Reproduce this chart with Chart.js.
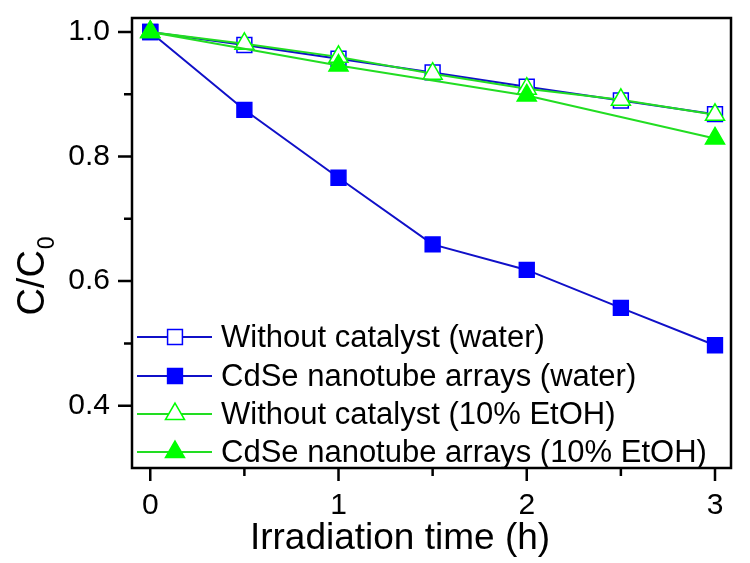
<!DOCTYPE html>
<html>
<head>
<meta charset="utf-8">
<script src="https://cdn.jsdelivr.net/npm/chart.js@4/dist/chart.umd.min.js"></script>
<style>
  html, body { margin: 0; padding: 0; background: #fff; }
  #wrap { width: 750px; height: 563px; }
</style>
</head>
<body>
<div id="wrap"><canvas id="rateChart" width="750" height="563"></canvas></div>
<script>
// irradiation time (h)
const timeAll = [0, 0.5, 1, 1.5, 2, 2.5, 3];
const timeEtoh = [0, 1, 2, 3];

// C/C0 values
const blankWater = [1.0, 0.979, 0.957, 0.935, 0.912, 0.890, 0.868];
const cdseWater = [1.0, 0.875, 0.766, 0.659, 0.618, 0.557, 0.497];
const blankEtoh = [1.0, 0.981, 0.960, 0.933, 0.909, 0.891, 0.867];
const cdseEtoh = [1.0, 0.946, 0.898, 0.829];

const seriesNames = [
  'Without catalyst (water)',
  'CdSe nanotube arrays (water)',
  'Without catalyst (10% EtOH)',
  'CdSe nanotube arrays (10% EtOH)'
];

const xMajorTicks = [0, 1, 2, 3];
const xMinorTicks = [0.5, 1.5, 2.5];
const yMajorTicks = [0.4, 0.6, 0.8, 1.0];
const yMinorTicks = [0.5, 0.7, 0.9];

const blueLine = '#1010C8';
const blueMark = '#0000FF';
const greenLine = '#22DD22';
const greenMark = '#00FF00';
const FONT = 'Arial, "Liberation Sans", sans-serif';

function pts(xs, ys) {
  return xs.map((x, i) => ({ x: x, y: ys[i] }));
}

const styles = [
  { line: blueLine, mark: blueMark, shape: 'rect', fill: '#ffffff' },
  { line: blueLine, mark: blueMark, shape: 'rect', fill: blueMark },
  { line: greenLine, mark: greenMark, shape: 'triangle', fill: '#ffffff' },
  { line: greenLine, mark: greenMark, shape: 'triangle', fill: greenMark }
];

function makeSet(i, data) {
  const s = styles[i];
  return {
    label: seriesNames[i],
    data: data,
    borderColor: s.line,
    borderWidth: 2,
    backgroundColor: s.fill,
    pointStyle: s.shape,
    pointRadius: s.shape === 'rect' ? 10.5 : 11,
    pointBorderColor: s.mark,
    pointBackgroundColor: s.fill,
    pointBorderWidth: 1.5,
    tension: 0,
    order: 4 - i
  };
}

function drawMarker(ctx, s, x, y) {
  ctx.save();
  ctx.beginPath();
  if (s.shape === 'rect') {
    const h = 10.5 * Math.SQRT1_2;
    ctx.rect(x - h, y - h, 2 * h, 2 * h);
  } else {
    const r = 11;
    ctx.moveTo(x, y - r);
    ctx.lineTo(x + r * Math.sin(Math.PI * 2 / 3), y + r * 0.5);
    ctx.lineTo(x - r * Math.sin(Math.PI * 2 / 3), y + r * 0.5);
    ctx.closePath();
  }
  ctx.fillStyle = s.fill;
  ctx.fill();
  ctx.lineWidth = 1.5;
  ctx.strokeStyle = s.mark;
  ctx.stroke();
  ctx.restore();
}

const framePlugin = {
  id: 'frame',
  afterDraw(chart) {
    const ctx = chart.ctx;
    const a = chart.chartArea;
    const xs = chart.scales.x;
    const ys = chart.scales.y;
    ctx.save();
    ctx.strokeStyle = '#000';
    ctx.lineWidth = 2.5;
    ctx.strokeRect(a.left, a.top, a.right - a.left, a.bottom - a.top);

    // tick marks, pointing out
    ctx.beginPath();
    yMajorTicks.forEach(v => {
      const p = ys.getPixelForValue(v);
      ctx.moveTo(a.left, p); ctx.lineTo(a.left - 14, p);
    });
    yMinorTicks.forEach(v => {
      const p = ys.getPixelForValue(v);
      ctx.moveTo(a.left, p); ctx.lineTo(a.left - 8, p);
    });
    xMajorTicks.forEach(v => {
      const p = xs.getPixelForValue(v);
      ctx.moveTo(p, a.bottom); ctx.lineTo(p, a.bottom + 13);
    });
    xMinorTicks.forEach(v => {
      const p = xs.getPixelForValue(v);
      ctx.moveTo(p, a.bottom); ctx.lineTo(p, a.bottom + 8);
    });
    ctx.stroke();

    // axis titles
    ctx.fillStyle = '#000';
    ctx.textAlign = 'center';
    ctx.textBaseline = 'middle';
    ctx.font = '37px ' + FONT;
    ctx.fillText('Irradiation time (h)', 400, 539);

    ctx.save();
    ctx.translate(34, 276);
    ctx.rotate(-Math.PI / 2);
    ctx.font = '38px ' + FONT;
    ctx.textAlign = 'left';
    const w = ctx.measureText('C/C').width;
    const sub = 23;
    const total = w + sub * 0.6;
    ctx.fillText('C/C', -total / 2, 0);
    ctx.font = sub + 'px ' + FONT;
    ctx.fillText('0', -total / 2 + w + 1, 14);
    ctx.restore();

    // legend inside the plot
    const rows = [337, 376, 414, 452];
    ctx.font = '31px ' + FONT;
    ctx.textAlign = 'left';
    ctx.textBaseline = 'middle';
    rows.forEach((y, i) => {
      const s = styles[i];
      ctx.strokeStyle = s.line;
      ctx.lineWidth = 2;
      ctx.beginPath();
      ctx.moveTo(137, y); ctx.lineTo(212, y);
      ctx.stroke();
      drawMarker(ctx, s, 175, y);
      ctx.fillStyle = '#000';
      ctx.fillText(seriesNames[i], 221, y + 1);
    });
    ctx.restore();
  }
};

const ctx = document.getElementById('rateChart').getContext('2d');
new Chart(ctx, {
  type: 'line',
  data: {
    datasets: [
      makeSet(0, pts(timeAll, blankWater)),
      makeSet(1, pts(timeAll, cdseWater)),
      makeSet(2, pts(timeAll, blankEtoh)),
      makeSet(3, pts(timeEtoh, cdseEtoh))
    ]
  },
  options: {
    responsive: false,
    animation: false,
    layout: { padding: { left: 0, top: 18, right: 19, bottom: 0 } },
    plugins: {
      legend: { display: false },
      tooltip: { enabled: false }
    },
    scales: {
      x: {
        type: 'linear',
        min: -0.097,
        max: 3.085,
        afterFit: s => { s.height = 95; s.paddingLeft = 0; s.paddingRight = 0; },
        afterBuildTicks: s => { s.ticks = xMajorTicks.map(v => ({ value: v })); },
        grid: { display: false, drawTicks: false },
        border: { display: false },
        ticks: {
          color: '#000',
          font: { family: FONT, size: 30 },
          padding: 20,
          maxRotation: 0,
          callback: v => String(v)
        }
      },
      y: {
        type: 'linear',
        min: 0.3,
        max: 1.0224,
        afterFit: s => { s.width = 132; s.paddingTop = 0; s.paddingBottom = 0; },
        afterBuildTicks: s => { s.ticks = yMajorTicks.map(v => ({ value: v })); },
        grid: { display: false, drawTicks: false },
        border: { display: false },
        ticks: {
          color: '#000',
          font: { family: FONT, size: 30 },
          padding: 22,
          callback: v => v.toFixed(1)
        }
      }
    }
  },
  plugins: [framePlugin]
});
</script>
</body>
</html>
